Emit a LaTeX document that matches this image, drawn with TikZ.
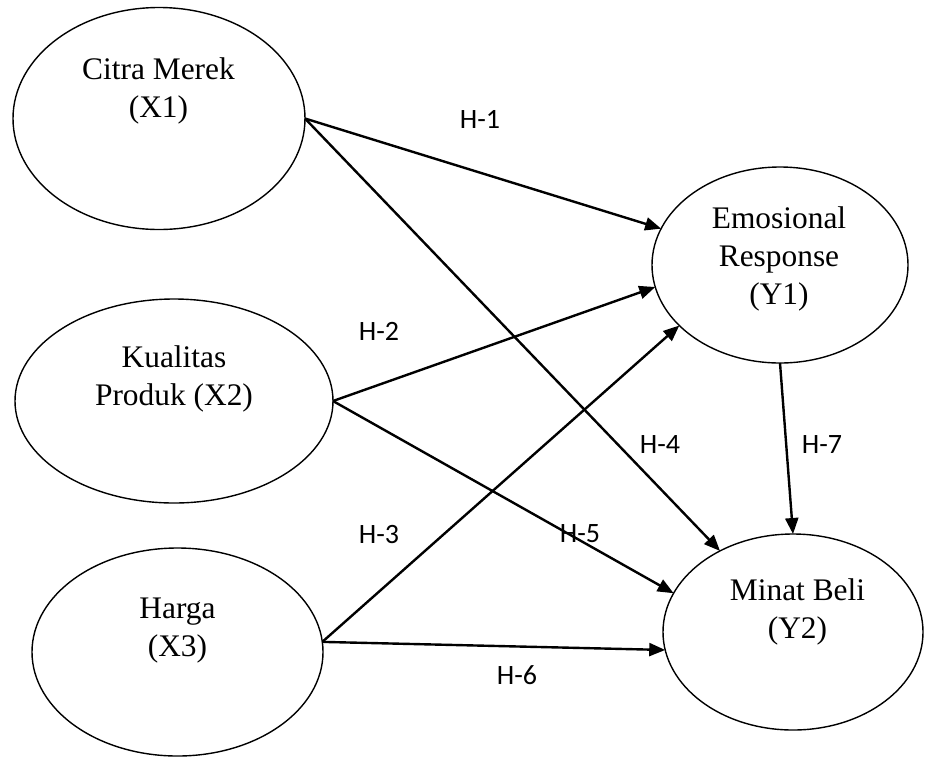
\documentclass[tikz,border=0pt]{standalone}
\usepackage{fontspec}
\setmainfont{Liberation Serif}
\newfontfamily\labfont{Carlito}
\usetikzlibrary{shapes.geometric,arrows.meta}
\begin{document}
\begin{tikzpicture}[
  x=0.5pt, y=-0.5pt,
  var/.style={draw=black, line width=0.7pt, ellipse, inner sep=0pt,
              outer sep=0pt},
  vtext/.style={align=center, inner sep=0pt,
                font=\fontsize{15.7}{19}\selectfont},
  hyp/.style={-{Triangle[length=8pt,width=6.5pt]}, line width=1.2pt, black},
  hlbl/.style={font=\labfont\fontsize{14}{16}\selectfont, inner sep=0pt,
               text depth=0pt},
]
% Canvas
\useasboundingbox (0,0) rectangle (925,767);
% Exogenous variables
\node[var, minimum width=146pt, minimum height=111pt] (x1) at (159,118.5) {};
\node[var, minimum width=159pt, minimum height=102pt] (x2) at (174,401) {};
\node[var, minimum width=145.5pt, minimum height=104pt] (x3) at (177.5,652) {};
% Endogenous variables
\node[var, minimum width=128pt, minimum height=98pt] (y1) at (780,265) {};
\node[var, minimum width=130pt, minimum height=98pt] (y2) at (793,632) {};
% Variable names
\node[vtext] (x1t) at (158.5,91) {Citra Merek\\(X1)};
\node[vtext] (x2t) at (174,379) {Kualitas\\Produk (X2)};
\node[vtext] (x3t) at (177.5,631) {Harga\\(X3)};
\node[vtext] (y1t) at (779,259) {Emosional\\Response\\(Y1)};
\node[vtext] (y2t) at (797.5,612) {Minat Beli\\(Y2)};
% Hypothesis paths
\draw[hyp] (x1.east) -- (y1.163);
\draw[hyp] (x1.east) -- (y2.132);
\draw[hyp] (x2.east) -- (y1.190);
\draw[hyp] (x2.east) -- (y2.162);
\draw[hyp] (x3.4) -- (y1.211);
\draw[hyp] (x3.4) -- (y2.188);
\draw[hyp] (y1.south) -- (y2.north);
% Path labels
\node[hlbl] (h1) at (480,119) {H-1};
\node[hlbl] (h2) at (379,331) {H-2};
\node[hlbl] (h3) at (379,534) {H-3};
\node[hlbl] (h4) at (660,444) {H-4};
\node[hlbl] (h5) at (580,534) {H-5};
\node[hlbl] (h6) at (517,675) {H-6};
\node[hlbl] (h7) at (822,445) {H-7};
\end{tikzpicture}
\end{document}
